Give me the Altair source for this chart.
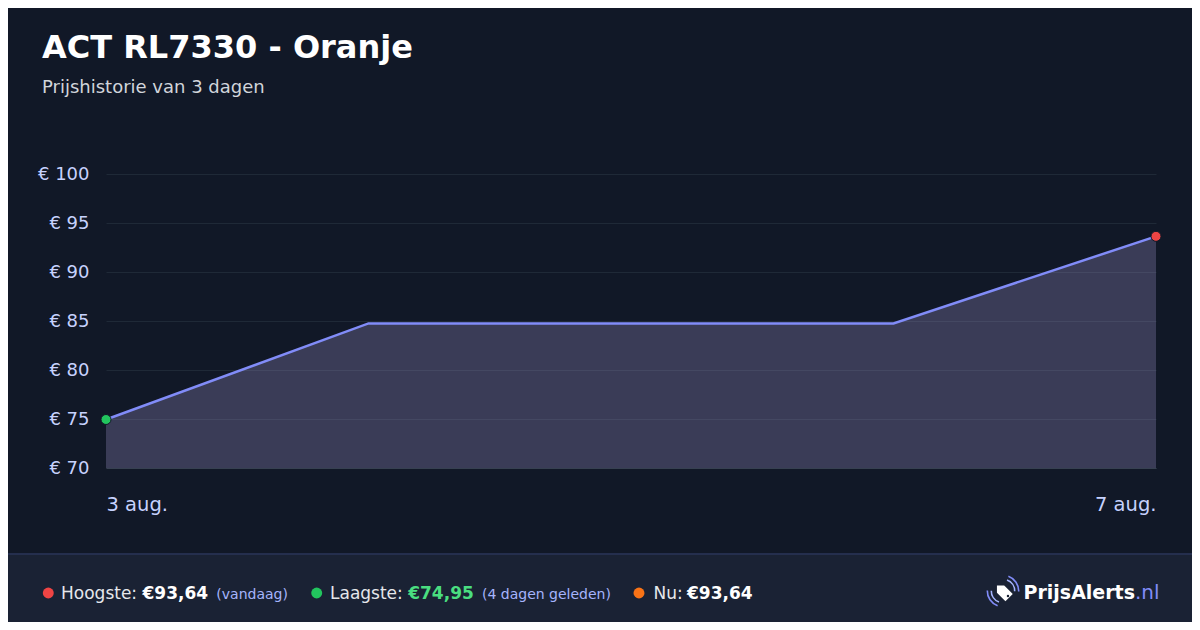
import altair as alt
import pandas as pd

# ---- data ----
dates = ["2025-08-03T00:00:00", "2025-08-04T00:00:00", "2025-08-06T00:00:00", "2025-08-07T00:00:00"]
prices = [74.95, 84.75, 84.75, 93.64]
y_ticks = [70, 75, 80, 85, 90, 95, 100]
x_tick_days = [3, 7]
title_text = "ACT RL7330 - Oranje"
subtitle_text = "Prijshistorie van 3 dagen"

df = pd.DataFrame({"date": pd.to_datetime(dates), "price": prices})

hi = max(prices)
lo = min(prices)
now = prices[-1]
lo_idx = prices.index(lo)
days_ago = (pd.to_datetime(dates[-1]) - pd.to_datetime(dates[lo_idx])).days


def eur(v):
    return "€" + f"{v:.2f}".replace(".", ",")


BG = "#111827"
FOOT = "#1a2234"
FONT = "DejaVu Sans"
LABEL = "#c7d2fe"

x_vals = [alt.DateTime(year=2025, month=8, date=d) for d in x_tick_days]
month_expr = "['jan.','feb.','mrt.','apr.','mei','jun.','jul.','aug.','sep.','okt.','nov.','dec.']"

x_enc = alt.X(
    "date:T",
    scale=alt.Scale(domain=x_vals, nice=False),
    axis=alt.Axis(
        values=x_vals,
        labelExpr="date(datum.value) + ' ' + " + month_expr + "[month(datum.value)]",
        labelFlush=True,
        labelFont=FONT,
        labelFontSize=19.5,
        labelColor=LABEL,
        labelPadding=42,
        labelBaseline="alphabetic",
        ticks=False,
        grid=False,
        domain=True,
        domainColor="#374151",
        domainWidth=1,
        title=None,
    ),
)
y_enc = alt.Y(
    "price:Q",
    scale=alt.Scale(domain=[y_ticks[0], y_ticks[-1]], nice=False, zero=False),
    axis=alt.Axis(
        values=y_ticks,
        labelExpr="'€ ' + datum.value",
        labelFont=FONT,
        labelFontSize=18,
        labelColor=LABEL,
        labelPadding=17,
        ticks=False,
        domain=False,
        grid=True,
        gridColor="#1f2937",
        gridWidth=1,
        title=None,
    ),
)

base = alt.Chart(df)

# footer band
footer = alt.Chart(df).mark_rect(color=FOOT).encode(
    x=alt.value(-110), x2=alt.value(1200), y=alt.value(380), y2=alt.value(470)
)
footer_line = alt.Chart(df).mark_rule(color="#263050", strokeWidth=1).encode(
    x=alt.value(-110), x2=alt.value(1200), y=alt.value(380)
)

area = base.mark_area(color="#9a93c7", opacity=0.3).encode(
    x=x_enc, y=y_enc, y2=alt.datum(y_ticks[0])
)
line = base.mark_line(color="#818cf8", strokeWidth=2.5).encode(x="date:T", y="price:Q")
pts = (
    base.transform_joinaggregate(mn="min(price)", mx="max(price)")
    .transform_filter("datum.price == datum.mn || datum.price == datum.mx")
    .mark_circle(size=100, opacity=1, stroke=BG, strokeWidth=1)
    .encode(
        x="date:T",
        y="price:Q",
        color=alt.condition("datum.price == datum.mn", alt.value("#22c55e"), alt.value("#ef4444")),
    )
)


def txt(s, x, y, size, color, bold=False, align="left"):
    return alt.Chart(pd.DataFrame({"t": [s]})).mark_text(
        font=FONT,
        fontSize=size,
        fontWeight="bold" if bold else "normal",
        color=color,
        align=align,
        baseline="alphabetic",
    ).encode(x=alt.value(x), y=alt.value(y), text="t:N")


def dot(x, y, color, size=120):
    return alt.Chart(pd.DataFrame({"t": [0]})).mark_circle(size=size, color=color, opacity=1).encode(
        x=alt.value(x), y=alt.value(y)
    )


title = txt(title_text, -64, -115.7, 32, "#ffffff", bold=True)
subtitle = txt(subtitle_text, -64, -81.3, 18, "#d1d5db")

fy = 425
footer_items = [
    dot(-57.7, 419, "#ef4444"),
    txt("Hoogste:", -45, fy, 17, "#e5e7eb"),
    txt(eur(hi), 36.5, fy, 17, "#ffffff", bold=True),
    txt("(vandaag)", 110.3, fy, 14, "#a5b4fc"),
    dot(210.7, 419, "#22c55e"),
    txt("Laagste:", 224, fy, 17, "#e5e7eb"),
    txt(eur(lo), 302.2, fy, 17, "#4ade80", bold=True),
    txt(f"({days_ago} dagen geleden)", 376, fy, 14, "#a5b4fc"),
    dot(533, 419, "#f97316"),
    txt("Nu:", 547.5, fy, 17, "#e5e7eb"),
    txt(eur(now), 581, fy, 17, "#ffffff", bold=True),
    txt("PrijsAlerts", 1029, fy, 19, "#ffffff", bold=True, align="right"),
    txt(".nl", 1029, fy, 20, "#818cf8"),
]

# logo icon: tag + signal arcs
tag_path = "M -0.625 -0.625 L 0.125 -0.625 L 1 0.25 L 0.25 1 L -0.625 0.125 Z"
icon_df = pd.DataFrame({"t": [0]})
tag = alt.Chart(icon_df).mark_point(
    shape=tag_path, filled=True, color="#ffffff", size=380, opacity=1
).encode(x=alt.value(897), y=alt.value(417.5))
hole = alt.Chart(icon_df).mark_circle(size=6, color=FOOT, opacity=1).encode(
    x=alt.value(902), y=alt.value(422)
)
arcs = []
for r, col in [(12.5, "#a5b4fc"), (16.5, "#818cf8")]:
    for t0 in [0.35, 3.14159 + 0.35]:
        arcs.append(
            alt.Chart(icon_df).mark_arc(color=col, opacity=1).encode(
                x=alt.value(897),
                y=alt.value(417),
                theta=alt.value(t0),
                theta2=alt.value(t0 + 1.25),
                radius=alt.value(r),
                radius2=alt.value(r - 1.6),
            )
        )

chart = (
    alt.layer(footer, footer_line, area, line, pts, title, subtitle, *footer_items, tag, hole, *arcs)
    .properties(
        width=1050,
        height=294,
        background=BG,
        autosize=alt.AutoSizeParams(type="none"),
        padding={"left": 98, "top": 166, "right": 36, "bottom": 154},
    )
    .configure_view(stroke=None)
)

chart.save("out.html", embed_options={"renderer": "svg", "actions": False})
